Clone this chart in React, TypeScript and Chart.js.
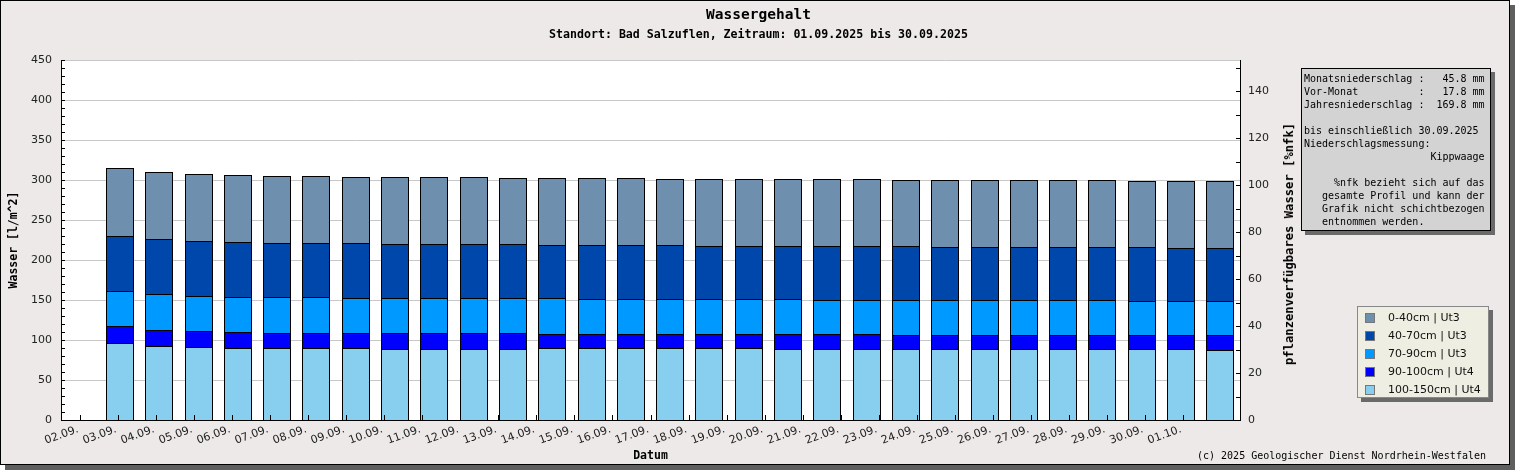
import { useEffect, useRef } from "react"
import { Chart, registerables, BarController } from "chart.js"

Chart.register(...registerables)

// Balken auf ganze Pixel legen, damit die 1px-Rahmen scharf bleiben
class SnapBarController extends BarController {
  static id = "snapbar"
  updateElement(element: any, index: any, properties: any, mode: any) {
    if (properties && typeof properties.x === "number") {
      properties.x = Math.round(properties.x)
      properties.width = Math.round(properties.width)
      properties.y = Math.round(properties.y)
      properties.base = Math.round(properties.base)
    }
    super.updateElement(element, index, properties, mode)
  }
}
Chart.register(SnapBarController)

// Tage (Tick an der linken Kante jedes Slots), erster Slot ohne Balken
const tage = [
  "02.09.", "03.09.", "04.09.", "05.09.", "06.09.", "07.09.", "08.09.", "09.09.", "10.09.", "11.09.",
  "12.09.", "13.09.", "14.09.", "15.09.", "16.09.", "17.09.", "18.09.", "19.09.", "20.09.", "21.09.",
  "22.09.", "23.09.", "24.09.", "25.09.", "26.09.", "27.09.", "28.09.", "29.09.", "30.09.", "01.10.",
]

// Wasser in l/m^2 je Schicht
const schicht100_150 = [
  null, 96.6, 92.9, 91.6, 90.4, 90.4, 90.4, 90.4, 89.3, 89.3, 89.3, 89.3, 89.6, 89.6, 89.6,
  89.6, 89.6, 89.6, 88.3, 88.3, 88.3, 88.3, 88.3, 88.3, 88.3, 88.3, 88.3, 88.3, 88.3, 87.1,
]
const schicht90_100 = [
  null, 20.5, 19.2, 19.2, 19.2, 17.9, 17.9, 17.9, 19.0, 19.0, 19.0, 19.0, 17.9, 17.9, 17.9,
  17.9, 17.9, 17.9, 19.2, 19.2, 19.2, 18.0, 18.0, 18.0, 18.0, 18.0, 18.0, 18.0, 18.0, 19.2,
]
const schicht70_90 = [
  null, 44.6, 45.0, 43.8, 43.7, 45.0, 45.0, 43.8, 43.8, 43.8, 43.8, 43.8, 44.6, 43.3, 43.3,
  43.3, 43.3, 43.3, 43.3, 42.1, 42.1, 43.3, 43.3, 43.3, 43.3, 43.3, 43.3, 42.0, 42.0, 42.0,
]
const schicht40_70 = [
  null, 68.7, 68.7, 68.7, 68.8, 67.5, 67.5, 68.7, 67.5, 67.5, 67.5, 67.5, 66.2, 67.5, 67.5,
  67.5, 66.3, 66.3, 66.3, 67.5, 67.5, 67.5, 66.2, 66.2, 66.2, 66.2, 66.2, 67.5, 66.3, 66.3,
]
const schicht0_40 = [
  null, 84.2, 83.8, 83.8, 83.7, 83.8, 83.8, 82.5, 83.7, 83.7, 83.7, 82.5, 83.8, 83.8, 83.8,
  82.5, 83.7, 83.7, 83.7, 83.7, 83.7, 82.5, 83.8, 83.8, 83.8, 83.8, 83.8, 82.5, 83.7, 83.7,
]

const legende = [
  { label: "0-40cm | Ut3", color: "#6f8faf" },
  { label: "40-70cm | Ut3", color: "#0047ab" },
  { label: "70-90cm | Ut3", color: "#0099ff" },
  { label: "90-100cm | Ut4", color: "#0000ff" },
  { label: "100-150cm | Ut4", color: "#88ceee" },
]

const infoText = [
  "Monatsniederschlag :   45.8 mm",
  "Vor-Monat          :   17.8 mm",
  "Jahresniederschlag :  169.8 mm",
  "",
  "bis einschließlich 30.09.2025",
  "Niederschlagsmessung:",
  "                     Kippwaage",
  "",
  "     %nfk bezieht sich auf das",
  "   gesamte Profil und kann der",
  "   Grafik nicht schichtbezogen",
  "   entnommen werden.",
].join("\n")

const MONO = "'DejaVu Sans Mono', monospace"

// weißer Plotbereich + nach innen zeigende Ticks
const plotDeko = {
  id: "plotDeko",
  beforeDraw(chart: any) {
    const { ctx, chartArea } = chart
    ctx.save()
    ctx.fillStyle = "#ffffff"
    ctx.fillRect(chartArea.left, chartArea.top, chartArea.right - chartArea.left, chartArea.bottom - chartArea.top)
    ctx.restore()
  },
  afterDraw(chart: any) {
    const { ctx, chartArea } = chart
    const y = chart.scales.y
    const y2 = chart.scales.y2
    const xt = chart.scales.xt
    ctx.save()
    ctx.strokeStyle = "#000"
    ctx.lineWidth = 1
    ctx.beginPath()
    for (let v = 0; v <= 450; v += 10) {
      const p = Math.round(y.getPixelForValue(v)) + 0.5
      ctx.moveTo(chartArea.left, p)
      ctx.lineTo(chartArea.left + 4, p)
    }
    for (let v = 0; v <= 150; v += 10) {
      const p = Math.round(y2.getPixelForValue(v)) + 0.5
      ctx.moveTo(chartArea.right - 4, p)
      ctx.lineTo(chartArea.right, p)
    }
    for (let i = 0; i < tage.length; i++) {
      const p = Math.round(xt.getPixelForValue(i)) + 0.5
      ctx.moveTo(p, chartArea.bottom - 5)
      ctx.lineTo(p, chartArea.bottom)
    }
    ctx.stroke()
    ctx.restore()
  },
}

const WassergehaltChart = () => {
  const chartRef = useRef<HTMLCanvasElement>(null)
  const chartInstance = useRef<Chart | null>(null)

  useEffect(() => {
    if (!chartRef.current) return
    if (chartInstance.current) chartInstance.current.destroy()
    const ctx = chartRef.current.getContext("2d")
    if (!ctx) return

    Chart.defaults.font.family = "'DejaVu Sans', sans-serif"

    const ds = (label: string, data: (number | null)[], color: string) => ({
      label,
      data,
      backgroundColor: color,
      borderColor: "#000",
      borderWidth: { top: 1, left: 1, right: 1, bottom: 0 },
      borderSkipped: false,
      barPercentage: 0.715,
      categoryPercentage: 1,
    })

    chartInstance.current = new Chart(ctx, {
      type: "snapbar",
      data: {
        labels: tage,
        datasets: [
          ds("100-150cm | Ut4", schicht100_150, legende[4].color),
          ds("90-100cm | Ut4", schicht90_100, legende[3].color),
          ds("70-90cm | Ut3", schicht70_90, legende[2].color),
          ds("40-70cm | Ut3", schicht40_70, legende[1].color),
          ds("0-40cm | Ut3", schicht0_40, legende[0].color),
        ],
      },
      options: {
        responsive: false,
        animation: false,
        layout: { padding: { top: 60, right: 210, bottom: 0, left: 0 } },
        plugins: {
          legend: { display: false },
          tooltip: { enabled: false },
        },
        scales: {
          x: {
            type: "category",
            stacked: true,
            offset: true,
            display: false,
          },
          xt: {
            type: "linear",
            position: "bottom",
            min: 0,
            max: 30,
            afterFit: (s: any) => { s.height = 45 },
            ticks: {
              stepSize: 1,
              autoSkip: false,
              minRotation: 20,
              maxRotation: 20,
              labelOffset: -2,
              padding: 3,
              color: "#222",
              font: { size: 11 },
              callback: (v: any) => tage[v] ?? "",
            },
            grid: { drawOnChartArea: false, drawTicks: false },
            border: { color: "#000" },
            title: {
              display: true,
              text: "Datum",
              color: "#000",
              font: { family: MONO, size: 11.5, weight: "bold" },
              padding: { top: 0, bottom: 2 },
            },
          },
          y: {
            type: "linear",
            stacked: true,
            min: 0,
            max: 450,
            afterFit: (s: any) => { s.width = 61 },
            ticks: { stepSize: 50, color: "#222", font: { size: 11 }, padding: 9 },
            grid: { color: "#c8c8c8", drawTicks: false },
            border: { color: "#000" },
            title: {
              display: true,
              text: "Wasser [l/m^2]",
              color: "#000",
              font: { family: MONO, size: 11.5, weight: "bold" },
              padding: { top: 7, bottom: 0 },
            },
          },
          y2: {
            type: "linear",
            position: "right",
            min: 0,
            max: 153.2,
            afterFit: (s: any) => { s.width = 60 },
            ticks: {
              stepSize: 20,
              color: "#222",
              font: { size: 11 },
              padding: 8,
              callback: (v: any) => (v % 20 === 0 ? v : ""),
            },
            grid: { drawOnChartArea: false, drawTicks: false },
            border: { color: "#000" },
          },
        },
      },
      plugins: [plotDeko],
    } as any)

    return () => {
      if (chartInstance.current) {
        chartInstance.current.destroy()
        chartInstance.current = null
      }
    }
  }, [])

  return (
    <div style={{ position: "fixed", left: 0, top: 0, width: 1515, height: 470 }}>
      <div
        style={{
          position: "absolute", left: 0, top: 0, width: 1510, height: 465, boxSizing: "border-box",
          background: "#ece9e8", border: "1px solid #000", boxShadow: "5px 5px 0 #5f5f5f",
        }}
      />
      <canvas ref={chartRef} width={1510} height={465} style={{ position: "absolute", left: 0, top: 0 }} />
      <div style={{ position: "absolute", left: 0, top: 5, width: 1517, textAlign: "center", font: `bold 14.5px ${MONO}`, lineHeight: "18px" }}>
        Wassergehalt
      </div>
      <div style={{ position: "absolute", left: 0, top: 26, width: 1517, textAlign: "center", font: `bold 11.6px ${MONO}`, lineHeight: "16px" }}>
        Standort: Bad Salzuflen, Zeitraum: 01.09.2025 bis 30.09.2025
      </div>
      <div
        style={{
          position: "absolute", left: 1289, top: 244, transform: "translate(-50%, -50%) rotate(-90deg)",
          whiteSpace: "nowrap", font: `bold 12.2px ${MONO}`, lineHeight: "14px",
        }}
      >
        pflanzenverfügbares Wasser [%nfk]
      </div>
      <div
        style={{
          position: "absolute", left: 1301, top: 68, width: 190, height: 163, boxSizing: "border-box",
          background: "#d3d3d3", border: "1px solid #000", boxShadow: "4px 4px 0 #6a6a6a",
        }}
      >
        <pre style={{ margin: 0, padding: "3px 0 0 2px", font: `10px ${MONO}`, lineHeight: "13px", color: "#000" }}>{infoText}</pre>
      </div>
      <div
        style={{
          position: "absolute", left: 1357, top: 306, width: 132, height: 92, boxSizing: "border-box",
          background: "#eeeee2", border: "1px solid #888", boxShadow: "4px 4px 0 #6a6a6a",
        }}
      >
        {legende.map((l, i) => (
          <div key={l.label} style={{ position: "absolute", left: 0, top: 2 + i * 18, height: 18, width: 130 }}>
            <div style={{ position: "absolute", left: 7, top: 4, width: 10, height: 10, boxSizing: "border-box", background: l.color, border: "1px solid #777" }} />
            <div style={{ position: "absolute", left: 30, top: 1, font: "11px 'DejaVu Sans', sans-serif", lineHeight: "16px", whiteSpace: "nowrap", color: "#111" }}>
              {l.label}
            </div>
          </div>
        ))}
      </div>
      <div style={{ position: "absolute", left: 1197, top: 449, font: `10px ${MONO}`, lineHeight: "14px", whiteSpace: "nowrap" }}>
        (c) 2025 Geologischer Dienst Nordrhein-Westfalen
      </div>
    </div>
  )
}

export default function App() {
  return <WassergehaltChart />
}
